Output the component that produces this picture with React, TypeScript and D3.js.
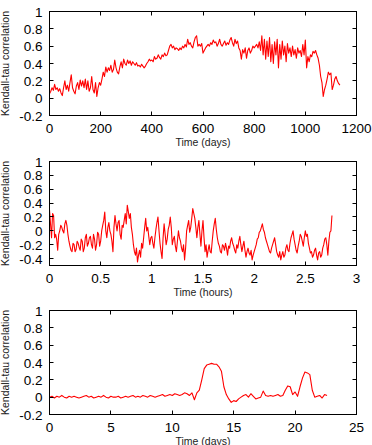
import React, { useRef, useEffect } from "react";
import * as d3 from "d3";

// Top panel: correlation sampled every 5 days
const daysStep = 5;
const dailyTau = [
  0.05, 0.08, 0.12, 0.09, 0.16, 0.1, 0.12, 0.08, 0.11, 0.06,
  0.03, 0.12, 0.2, 0.1, 0.15, 0.08, 0.18, 0.27, 0.12, 0.08,
  0.05, 0.14, 0.18, 0.1, 0.21, 0.14, 0.2, 0.12, 0.22, 0.1,
  0.2, 0.08, 0.12, 0.25, 0.1, 0.06, 0.18, 0.02, 0.12, 0.18,
  0.15, 0.22, 0.3, 0.25, 0.36, 0.3, 0.35, 0.32, 0.38, 0.3,
  0.33, 0.44, 0.35, 0.3, 0.28, 0.36, 0.42, 0.35, 0.45, 0.4,
  0.38, 0.44, 0.4, 0.43, 0.38, 0.42, 0.4, 0.38, 0.41, 0.37,
  0.38, 0.36, 0.39, 0.37, 0.35, 0.37, 0.4, 0.42, 0.45, 0.43,
  0.44, 0.42, 0.48, 0.45, 0.46, 0.5, 0.47, 0.45, 0.5, 0.48,
  0.52, 0.49, 0.5, 0.55, 0.6, 0.62, 0.58, 0.6, 0.56, 0.58,
  0.57, 0.55, 0.58, 0.56, 0.6, 0.58, 0.62, 0.59, 0.68, 0.62,
  0.64, 0.6, 0.58, 0.65, 0.7, 0.72, 0.6, 0.62, 0.6, 0.63,
  0.52, 0.55, 0.58, 0.6, 0.62, 0.6, 0.64, 0.62, 0.67, 0.64,
  0.65, 0.6, 0.63, 0.68, 0.62, 0.6, 0.63, 0.66, 0.61, 0.64,
  0.62, 0.67, 0.7, 0.64, 0.6, 0.68, 0.63, 0.66, 0.58, 0.55,
  0.45, 0.56, 0.52, 0.58, 0.46, 0.55, 0.58, 0.52, 0.55, 0.6,
  0.58, 0.6, 0.62, 0.58, 0.65, 0.55, 0.72, 0.5, 0.68, 0.45,
  0.66, 0.48, 0.7, 0.42, 0.62, 0.4, 0.65, 0.5, 0.68, 0.35,
  0.62, 0.45, 0.66, 0.5, 0.6, 0.42, 0.63, 0.52, 0.58, 0.48,
  0.6, 0.5, 0.56, 0.46, 0.58, 0.52, 0.55, 0.48, 0.62, 0.5,
  0.67, 0.35, 0.48, 0.42, 0.5, 0.48, 0.54, 0.52, 0.55, 0.5,
  0.46, 0.38, 0.25, 0.18, 0.02, 0.1, 0.15, 0.22, 0.3, 0.27,
  0.29, 0.1, 0.15, 0.22, 0.25, 0.2, 0.17, 0.15,
];

// Middle panel: correlation sampled every 0.01 hours
const hoursStep = 0.01;
const hourlyTau = [
  0.3, 0.1, -0.1, 0.25, 0.22, -0.1, -0.05, -0.12, -0.28, -0.05, 0.0, 0.08, 0.05, 0.0, -0.03, 0.1, 0.15, 0.08, -0.05, -0.15,
  -0.22, -0.28, -0.3, -0.18, -0.2, -0.3, -0.27, -0.15, -0.18, -0.24, -0.28, -0.12, -0.15, -0.3, -0.25, -0.1, -0.05, -0.22, -0.18, -0.1,
  -0.08, -0.2, -0.25, -0.05, -0.12, -0.28, -0.2, -0.02, -0.05, -0.22, -0.15, 0.0, 0.08, 0.15, 0.27, 0.0, -0.1, 0.05, 0.12, 0.0,
  -0.05, -0.15, -0.3, 0.05, 0.22, 0.1, 0.0, 0.12, 0.15, -0.05, -0.12, 0.08, 0.05, 0.15, 0.25, 0.1, 0.37, 0.28, 0.18, 0.25,
  0.05, -0.05, -0.2, -0.3, -0.35, -0.25, -0.45, -0.35, -0.28, -0.38, -0.18, -0.25, -0.1, 0.05, 0.18, 0.0, 0.05, -0.08, -0.2, -0.1,
  -0.08, -0.18, -0.25, -0.1, 0.02, 0.12, 0.2, 0.0, -0.18, -0.3, -0.4, -0.1, 0.1, -0.05, -0.2, -0.12, 0.02, 0.08, 0.2, 0.05,
  -0.2, -0.12, -0.08, -0.22, -0.3, -0.15, 0.0, -0.1, -0.15, -0.25, -0.3, -0.2, -0.42, -0.25, 0.0, 0.08, 0.15, -0.02, 0.05, 0.18,
  0.32, 0.25, 0.18, 0.05, -0.1, 0.05, 0.15, -0.05, -0.22, 0.0, 0.15, -0.1, -0.3, -0.2, -0.38, -0.28, -0.2, -0.3, -0.32, -0.15,
  0.0, 0.1, 0.18, 0.02, -0.1, -0.18, -0.22, -0.3, -0.32, -0.2, -0.22, -0.28, -0.18, -0.25, -0.35, -0.22, -0.25, -0.15, -0.1, -0.18,
  -0.22, -0.28, -0.32, -0.2, -0.25, -0.15, -0.08, -0.2, -0.3, -0.22, -0.15, -0.28, -0.38, -0.3, -0.25, -0.32, -0.35, -0.28, -0.42, -0.35,
  -0.3, -0.25, -0.2, -0.12, -0.1, -0.02, 0.0, 0.05, 0.1, 0.02, -0.02, -0.1, -0.15, -0.2, -0.25, -0.3, -0.32, -0.25, -0.2, -0.15,
  -0.1, -0.2, -0.3, -0.35, -0.38, -0.3, -0.42, -0.35, -0.3, -0.38, -0.35, -0.25, -0.2, -0.28, -0.3, -0.18, -0.1, -0.05, 0.0, -0.12,
  -0.2, -0.28, -0.32, -0.22, -0.15, -0.05, -0.08, -0.15, -0.22, -0.1, 0.0, -0.08, -0.05, -0.18, -0.25, -0.32, -0.3, -0.38, -0.35, -0.28,
  -0.25, -0.35, -0.42, -0.32, -0.3, -0.38, -0.35, -0.25, -0.2, -0.12, -0.1, -0.2, -0.35, -0.15, -0.02, 0.0, 0.22,
];

// Bottom panel: correlation sampled every 0.2 days
const shortStep = 0.2;
const shortTau = [
  0.0, 0.01, -0.01, 0.01, 0.0, 0.02, 0.0, -0.01, 0.01, 0.0,
  0.01, 0.0, -0.01, 0.0, 0.01, 0.02, 0.0, 0.01, -0.01, 0.0,
  0.01, 0.0, 0.02, 0.0, -0.01, 0.01, 0.0, 0.0, 0.01, -0.01,
  0.0, 0.01, 0.0, 0.01, 0.02, 0.0, 0.01, 0.0, 0.02, 0.01,
  0.0, 0.02, 0.01, 0.0, 0.01, 0.02, 0.03, 0.01, 0.02, 0.03,
  0.02, 0.04, 0.03, 0.02, 0.03, 0.05, 0.04, 0.02, 0.05, -0.03,
  0.05, 0.08, 0.2, 0.33, 0.37, 0.38, 0.39, 0.38, 0.38, 0.35,
  0.3, 0.12, 0.03, -0.02, -0.06, -0.04, -0.05, -0.02, 0.0, 0.02,
  0.03, 0.0, 0.04, 0.01, -0.02, -0.01, 0.0, 0.07, 0.02, 0.01,
  0.02, 0.01, 0.02, 0.03, 0.01, 0.02, 0.08, 0.13, 0.12, 0.03,
  0.06, 0.01, 0.12, 0.22, 0.29, 0.28, 0.26, 0.08, 0.0, 0.01,
  0.02, -0.01, 0.03, 0.02,
];

const xTicksDays = [0, 200, 400, 600, 800, 1000, 1200];
const xTicksHours = [0, 0.5, 1, 1.5, 2, 2.5, 3];
const xTicksShort = [0, 5, 10, 15, 20, 25];
const yTicksFull = [-0.2, 0, 0.2, 0.4, 0.6, 0.8, 1];
const yTicksHours = [-0.4, -0.2, 0, 0.2, 0.4, 0.6, 0.8, 1];

const panels = [
  { values: dailyTau, step: daysStep, xDomain: [0, 1200], yDomain: [-0.2, 1], xTicks: xTicksDays, yTicks: yTicksFull, xLabel: "Time (days)" },
  { values: hourlyTau, step: hoursStep, xDomain: [0, 3], yDomain: [-0.5, 1], xTicks: xTicksHours, yTicks: yTicksHours, xLabel: "Time (hours)" },
  { values: shortTau, step: shortStep, xDomain: [0, 25], yDomain: [-0.2, 1], xTicks: xTicksShort, yTicks: yTicksFull, xLabel: "Time (days)" },
];

const width = 372;
const height = 445;
const left = 49.5;
const right = 356.5;
const plotHeight = 104;
const tops = [11.5, 161.5, 310.5];
const font = "'Liberation Sans', Arial, Helvetica, sans-serif";
const fmt = (v: number) => String(Math.round(v * 10) / 10);

const App = () => {
  const svgRef = useRef<SVGSVGElement>(null);

  useEffect(() => {
    const svg = d3.select(svgRef.current);
    svg.selectAll("*").remove();

    panels.forEach((p, i) => {
      const top = tops[i];
      const bottom = top + plotHeight;
      const x = d3.scaleLinear().domain(p.xDomain).range([left, right]);
      const y = d3.scaleLinear().domain(p.yDomain).range([bottom, top]);
      const g = svg.append("g");

      // data line
      const line = d3
        .line<number>()
        .x((d, j) => x(j * p.step))
        .y((d) => y(d));
      g.append("path")
        .datum(p.values)
        .attr("d", line)
        .attr("fill", "none")
        .attr("stroke", "#ff0000")
        .attr("stroke-width", 1.1)
        .attr("stroke-linejoin", "round");

      // frame
      g.append("rect")
        .attr("x", left)
        .attr("y", top)
        .attr("width", right - left)
        .attr("height", plotHeight)
        .attr("fill", "none")
        .attr("stroke", "#000")
        .attr("stroke-width", 1);

      // x ticks, mirrored on top
      p.xTicks.forEach((t) => {
        const tx = Math.round(x(t) - 0.5) + 0.5;
        g.append("line").attr("x1", tx).attr("x2", tx).attr("y1", bottom).attr("y2", bottom - 4).attr("stroke", "#000");
        g.append("line").attr("x1", tx).attr("x2", tx).attr("y1", top).attr("y2", top + 4).attr("stroke", "#000");
        g.append("text")
          .attr("x", x(t))
          .attr("y", bottom + 17)
          .attr("text-anchor", "middle")
          .attr("font-family", font)
          .attr("font-size", 13.5)
          .attr("fill", "#000")
          .text(fmt(t));
      });

      // y ticks, mirrored on the right
      p.yTicks.forEach((t) => {
        const ty = Math.round(y(t) - 0.5) + 0.5;
        g.append("line").attr("x1", left).attr("x2", left + 4).attr("y1", ty).attr("y2", ty).attr("stroke", "#000");
        g.append("line").attr("x1", right).attr("x2", right - 4).attr("y1", ty).attr("y2", ty).attr("stroke", "#000");
        g.append("text")
          .attr("x", left - 7)
          .attr("y", y(t) + 5)
          .attr("text-anchor", "end")
          .attr("font-family", font)
          .attr("font-size", 13.5)
          .attr("fill", "#000")
          .text(fmt(t));
      });

      g.append("text")
        .attr("x", (left + right) / 2)
        .attr("y", bottom + 30)
        .attr("text-anchor", "middle")
        .attr("font-family", font)
        .attr("font-size", 10.5)
        .attr("fill", "#222")
        .text(p.xLabel);

      g.append("text")
        .attr("transform", `translate(9, ${(top + bottom) / 2}) rotate(-90)`)
        .attr("text-anchor", "middle")
        .attr("font-family", font)
        .attr("font-size", 10.5)
        .attr("fill", "#222")
        .text("Kendall-tau correlation");
    });
  }, []);

  return (
    <svg
      ref={svgRef}
      width={width}
      height={height}
      style={{ position: "absolute", left: 0, top: 0, background: "#fff" }}
    />
  );
};

export default App;
